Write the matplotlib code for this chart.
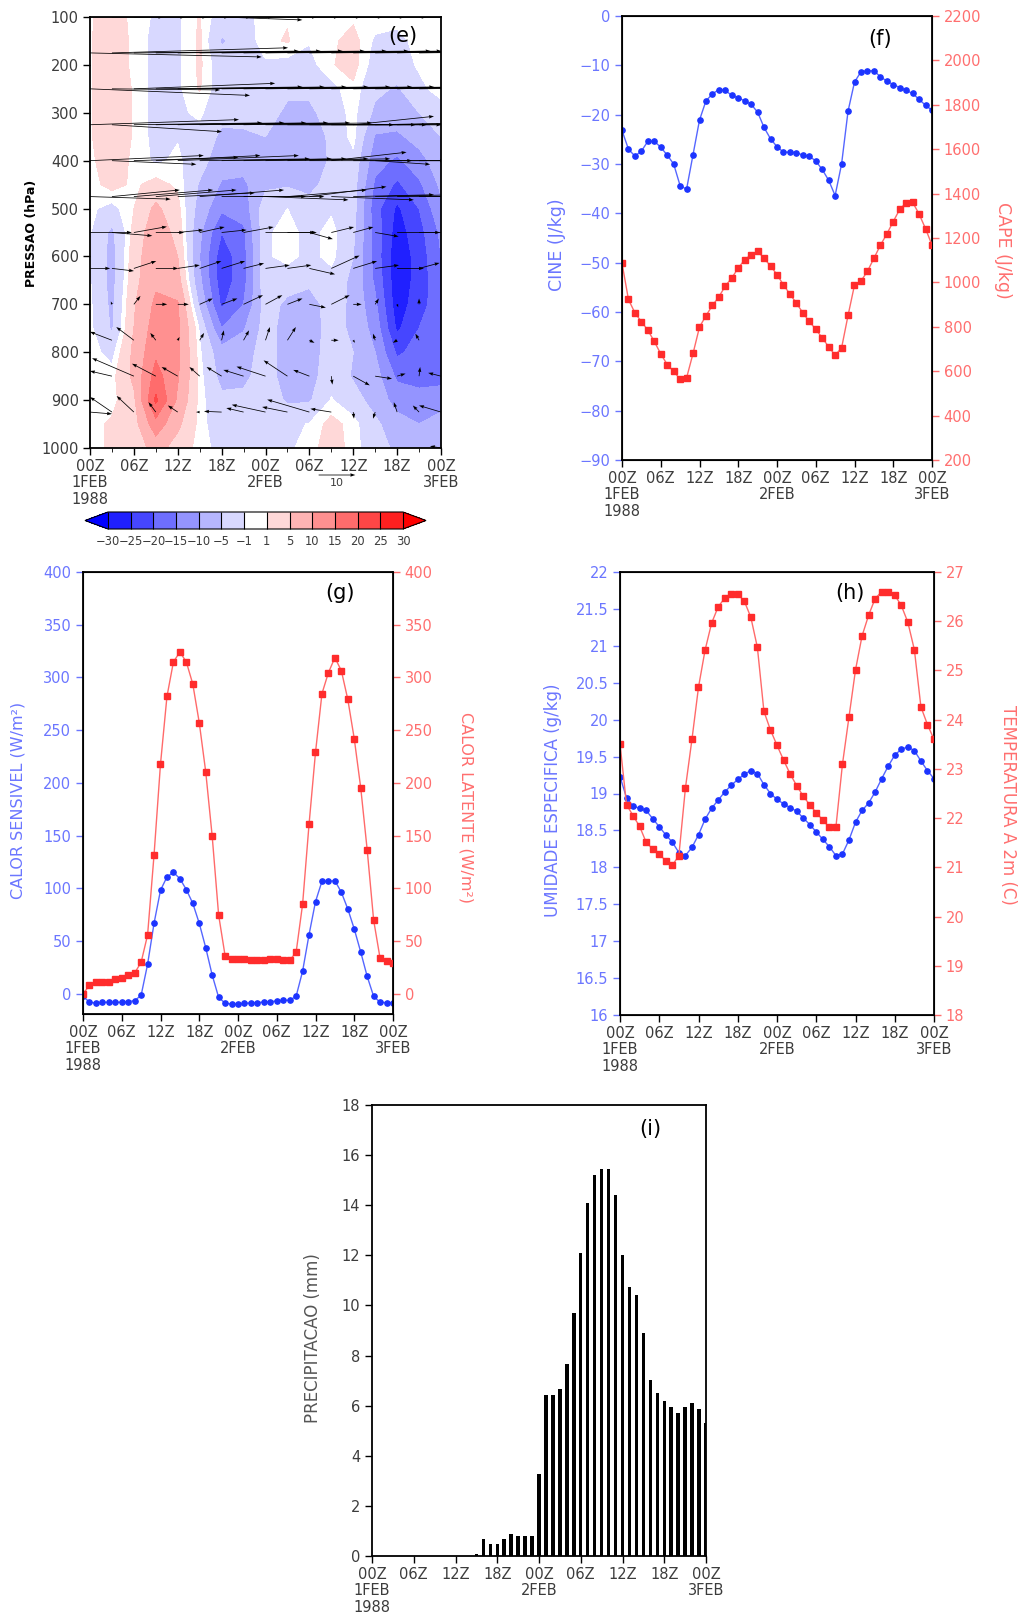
import numpy as np
import matplotlib.pyplot as plt
from matplotlib.colors import ListedColormap, BoundaryNorm
from matplotlib.ticker import MultipleLocator, FuncFormatter

plt.rcParams['font.family'] = 'DejaVu Sans'

# ---------------- data ----------------
hours = np.arange(49)
tick_hours = np.arange(0, 49, 6)
tick_labels = ['00Z\n1FEB\n1988', '06Z', '12Z', '18Z', '00Z\n2FEB',
               '06Z', '12Z', '18Z', '00Z\n3FEB']

cine = [-23.2, -27.0, -28.4, -27.4, -25.4, -25.4, -26.6, -28.2, -30.0, -34.4,
        -35.1, -28.1, -21.1, -17.2, -15.8, -14.9, -15.1, -16.1, -16.6, -17.2,
        -17.9, -19.5, -22.6, -24.9, -26.5, -27.6, -27.6, -27.7, -28.2, -28.4,
        -29.4, -31.1, -33.3, -36.4, -30.0, -19.3, -13.4, -11.3, -11.1, -11.1,
        -12.3, -13.2, -13.9, -14.5, -15.1, -15.7, -16.9, -18.1, -19.1]
cape = [1087, 923, 863, 823, 785, 734, 678, 630, 599, 564, 570, 680, 799, 850,
        896, 935, 984, 1020, 1065, 1102, 1125, 1141, 1108, 1074, 1035, 989, 947,
        907, 863, 824, 789, 750, 710, 672, 705, 851, 988, 1006, 1050, 1108, 1167,
        1218, 1274, 1329, 1359, 1361, 1308, 1242, 1168]

sensivel = [-2, -7.9, -8.5, -7.9, -7.9, -7.9, -7.9, -7.3, -6.3, -1.3, 28.1, 67,
            98.3, 110.9, 115.3, 109.3, 98.9, 85.9, 67, 43.9, 18, -3.2, -8.8,
            -9.5, -9.5, -8.8, -8.5, -8.2, -7.6, -7.3, -6.6, -6, -6, -2.2, 21.5,
            56.2, 87.5, 106.8, 106.8, 107.4, 96.4, 80.6, 61.6, 39.8, 16.7, -2.2,
            -7.9, -8.2, -8.5]
latente = [0, 8.2, 11.1, 11.1, 11.4, 14.2, 15.2, 18, 19.9, 30, 55.9, 131.8, 218,
           282, 314.7, 324.2, 314.7, 293.8, 257.2, 210.7, 149.8, 74.9, 36.3, 33.5,
           33.2, 32.9, 32.2, 32.2, 32.2, 32.9, 32.9, 32.5, 31.9, 39.5, 85, 160.8,
           229, 284.7, 304.6, 318.8, 306.5, 279.3, 242, 195.6, 136.8, 70.1, 33.8,
           31, 29.1]

umidade = [19.23, 18.94, 18.83, 18.80, 18.77, 18.66, 18.55, 18.44, 18.34, 18.20,
           18.16, 18.27, 18.44, 18.65, 18.80, 18.91, 19.02, 19.11, 19.19, 19.26,
           19.31, 19.27, 19.12, 19.00, 18.92, 18.86, 18.81, 18.76, 18.67, 18.58,
           18.48, 18.38, 18.28, 18.16, 18.18, 18.37, 18.61, 18.77, 18.87, 19.02,
           19.20, 19.37, 19.52, 19.60, 19.63, 19.58, 19.44, 19.31, 19.20]
temp2m = [23.51, 22.27, 22.05, 21.83, 21.51, 21.37, 21.27, 21.13, 21.04, 21.24,
          22.61, 23.60, 24.66, 25.41, 25.96, 26.29, 26.47, 26.55, 26.55, 26.41,
          26.08, 25.47, 24.17, 23.79, 23.48, 23.18, 22.90, 22.66, 22.45, 22.27,
          22.11, 21.96, 21.81, 21.81, 23.09, 24.05, 25.01, 25.70, 26.12, 26.46,
          26.60, 26.60, 26.53, 26.32, 25.98, 25.42, 24.26, 23.90, 23.60]

precip = [0, 0, 0, 0, 0, 0, 0, 0, 0, 0, 0, 0, 0, 0, 0, 0.09, 0.67, 0.49, 0.49,
          0.67, 0.89, 0.81, 0.81, 0.81, 3.29, 6.41, 6.41, 6.66, 7.67, 9.69, 12.08,
          14.08, 15.21, 15.45, 15.45, 14.40, 12.03, 10.74, 10.42, 8.90, 7.03,
          6.49, 6.17, 5.94, 5.72, 5.94, 6.09, 5.86, 5.32]

# section (e): filled field, one list per time (every 3 h), levels 100..1000 by 50
sec_hours = np.arange(0, 49, 3)
sec_press = np.arange(100, 1001, 50)
sec_cols = [
    [0.8, 0.8, 0.8, 0.8, 0.8, 0.8, 0.5, 0, -0.5, -0.8, -0.8, -0.8, -0.5, -0.3, 0, 0, 0, 0, 0],
    [2, 2.5, 2.5, 2.5, 2.5, 2.5, 2.5, 2, -2, -6, -6.5, -6.5, -6, -5.5, -2, 0, 0, 1.5, 1.5],
    [0.5, 0.5, 0.5, 0.8, 0.8, 0.8, 0.5, 0.5, 1, 2, 3, 3.5, 4.5, 5, 6, 6, 4, 3, 2],
    [-1.5, -2, -2, -2, -2, -2, -1.5, 2, 6, 8, 8.5, 9, 11, 12.5, 14, 17, 21, 13, 7],
    [-1.5, -1.5, -1.5, -1.5, -1.5, -1.2, -0.5, 0.5, 2, 3.5, 5, 7, 10.5, 11, 11, 10.5, 9, 6, 3],
    [1.2, 1.5, 1.5, 1.2, -0.5, -2, -3, -5.5, -7, -9, -10, -9, -6, -1.5, -0.5, 0, 0, 0, 0],
    [-3, -5.5, -3, -3, -3.5, -6, -8, -10.5, -14, -20, -23, -23, -21, -15, -8, -6.5, -4, -3, -2],
    [-2.5, -3, -2.5, -2.5, -3, -6, -8, -11, -13, -16, -17, -17, -15, -10.5, -7, -6, -4, -3, -2],
    [0.5, 0.5, -1.5, -2, -3, -5, -6, -6, -2, -1.5, -1.5, -1.5, -3, -3, -3, -3, -3, -1.5, -1],
    [0.8, 1.2, -2, -4, -6, -7, -7, -5.5, -1, 0, 0, -3, -6, -7, -7, -7, -5.5, -2, -1.5],
    [0, -0.8, -2, -4, -6, -8, -9.5, -6.5, -3, -2, -2, -4, -7, -7.5, -7.5, -7, -5.5, -0.8, 0],
    [0, 0.5, 0.8, -2, -3, -4, -4, -3, -1.5, 0, 0, -2.5, -3, -3, -2.5, -2, -0.8, 2, 2.5],
    [0.5, 2, 2, 0.5, 0, 0, -2, -3, -3, -4, -5, -6, -6, -6, -5, -5.5, -3, 0, 0],
    [0.3, -1.5, -2.5, -4, -6, -10.5, -13, -16, -18, -17, -17, -16, -14, -12, -10, -8, -7, -4, -3],
    [0, -2, -3, -5.5, -7, -11, -16, -21, -26, -27.5, -28.5, -28.5, -28, -26, -21, -16, -12, -8, -6],
    [0, 0, -0.5, -2, -5, -8, -12, -16, -20, -22, -23, -23, -22, -20, -18, -17, -13, -10, -7],
    [0, 0, -0.5, 0.5, -3, -5, -7, -9, -11, -14, -15, -16, -17, -18, -19, -17, -12, -8, -5],
]
sec_levels = [-30, -25, -20, -15, -10, -5, -1, 1, 5, 10, 15, 20, 25, 30]
sec_colors = ['#2020ff', '#4646ff', '#6e6eff', '#9494ff', '#b6b6ff', '#d8d8ff',
              '#ffffff', '#ffd8d8', '#ffb4b4', '#ff9090', '#ff6c6c', '#ff4646',
              '#ff2020']

# wind vectors, every 3 h, levels 100..1000 by 75
wind_press = np.arange(100, 1001, 75)
wind_u = [
    [20, 20, 20, 20, 20, 20, 22, 20, 20, 20, 20, 20, 20, 20, 20, 20, 20],
    [46.8, 48, 45, 45, 45, 45, 45, 45, 45, 42, 42, 42, 42, 42, 42, 42, 42],
    [43.6, 29.5, 38.5, 40, 40, 40, 40, 40, 40, 40, 40, 40, 40, 40, 40, 40, 40],
    [40.6, 30, 35, 35, 35, 35, 35, 35, 35, 35, 32, 30, 22, 25, 25, 25, 25],
    [31, 23, 28.5, 28.5, 33, 30, 30, 28, 28, 28, 28, 20.5, 25, 15, 20, 20, 20],
    [22, 18.5, 21.6, 22, 21, 23, 23, 22, 22.6, 21.6, 21, 22.5, 22, 22, 22, 22, 22],
    [11.4, 11, 9, 7.7, 7, 6.8, 6.8, 8.2, 13.5, 8, 6.4, 6.2, 5.5, 6.4, 11.7, 8, 8],
    [5.5, 6, 6.1, 6.1, 6, 5.9, 6.4, 5.6, 6.6, 6.5, 7, 7.7, 6.5, 6.5, 7.3, 5.6, 6],
    [0, -0.3, 1.8, 3.1, 3, 3.6, 4.3, 5.3, 4.6, 4.1, 4.5, 5, 2.3, 1, 0.3, 0, 0],
    [0, -6, -4.8, -1.5, 0.5, 1.2, 0.6, 1.5, 1.2, 2.3, 1.4, 2, 0.5, -0.6, -1.2, -1, 0],
    [-8, -6, -11.4, -6.5, -4.4, -2.8, -4.1, -5.5, -7.9, -6.5, -4.4, 0.3, 4.5, 4.6, 2.3, 0.3, -3.5],
    [6, -6, -4.7, -2, -2.7, -1, -4.8, -4.7, -9.2, -6.9, -11.5, -5.7, 0.2, -0.6, -0.9, -1.7, -6],
    [0, 0, 3.5, 0, 0, 0, 0, 0, 0, 0, 0, 0, 0, 0, 0, 0, -3],
]
wind_v = [
    [0, 0, 0, 0, 0, 0, -0.8, 0, 0, 0, 0, 0, 0, 0, 0, 0, 0],
    [-1.1, 1.4, 0.5, 0.5, 0.5, 0.5, 0.5, 0.5, 0.5, 0.5, 0.5, 0.5, 0.5, 0.5, 1, 0.5, 0.5],
    [-1.8, -0.3, 1.5, 0.5, 0.5, 0.5, 0.5, 0.5, 0.5, 0.5, 0.5, 0.5, 0.5, 0.5, 1, 0.5, 0.5],
    [1.4, -1.9, 0.5, 0.5, 0.5, 0.5, 0.5, 0.5, 0, 0, 0, 0, 2.3, 0.5, 0.5, 0, 0],
    [1.4, -1, 0.9, 1.4, 1.4, 0.5, 0.5, 0.5, 0.5, 0.5, 0, 2.3, 0, -1, 0, 0, 0],
    [-0.7, 1.8, 1.8, 1.8, 1, 1.8, 0, 0, -0.9, 1.8, 2.7, -0.9, 0.5, 0.5, 0, 0, 0],
    [0, -0.9, 1.6, 0, 0.7, 1.5, 0.7, 1.5, 0, 0, -1.8, 1.5, 1.5, -1.1, 0, 0, 0],
    [0, -0.7, 2, 0, 0.9, 2, 2, 1.4, 0.9, 0.9, -1.6, 3.5, 2, 0.9, 0, 1.5, 1.5],
    [0, 0.8, 2.3, 0, 0, 1.6, 1.6, 2.5, 2.5, 1.6, -0.9, 2.5, 0, 1.6, -0.8, 1.6, 0],
    [0, 2.3, 3.6, 2, 0.9, 2, 2.7, 2.7, 3.6, 3.6, -0.7, 0, -0.7, 1.8, -0.7, 1.8, 0],
    [2, 1.4, 4.9, 3.4, 2.5, 2.5, 2.5, 1.7, 2.6, 4.3, 1.7, -2.3, -2.5, -0.7, 0.7, 2.5, 0.9],
    [-0.5, 4.1, 4.4, 2.7, 1.8, 0, 0.2, 1.1, 2, 1.4, 3.4, 0.9, -1.8, -1.8, 2.7, 1.8, 1.8],
    [0, 0, -0.5, 0, 0, 0, 0, 0, 0, 0, 0, 0, 0, 0, 0, 0, 0.5],
]

# ---------------- styling ----------------
W, H = 1021, 1623
GRAY = '#3c3c3c'
BLUE_TXT = '#6b76ff'
RED_TXT = '#ff6f6f'
BLUE_LINE = '#5566ff'
BLUE_MK = '#1c34ff'
RED_LINE = '#ff6a6a'
RED_MK = '#ff2c2c'
FS = 10.5


def box(l, t, r, b):
    return [l / W, 1 - b / H, (r - l) / W, (b - t) / H]


def fxy(x, y):
    return x / W, 1 - y / H


def time_axis(ax):
    ax.set_xlim(0, 48)
    ax.set_xticks(tick_hours)
    ax.set_xticklabels(tick_labels, fontsize=FS, color=GRAY, linespacing=1.1)
    ax.tick_params(axis='x', direction='out', length=5, width=1, color='k', pad=3)
    for s in ax.spines.values():
        s.set_linewidth(1.3)


fig = plt.figure(figsize=(W / 100, H / 100), dpi=100)

# ---------------- (e) ----------------
ax = fig.add_axes(box(90, 17, 441, 448))
Z = np.array(sec_cols).T
cmap = ListedColormap(sec_colors)
cmap.set_under('#0000ff')
cmap.set_over('#ff0000')
norm = BoundaryNorm(sec_levels, cmap.N)
cs = ax.contourf(sec_hours, sec_press, Z, levels=sec_levels, cmap=cmap,
                 norm=norm, extend='both')
TW, PW = np.meshgrid(sec_hours, wind_press)
q = ax.quiver(TW, PW, np.array(wind_u), np.array(wind_v), color='k',
              scale_units='inches', scale=27.25, width=0.0022,
              headwidth=4.5, headlength=6.5, headaxislength=6, zorder=3)
ax.quiverkey(q, 337 / W, 1 - 475 / H, 10, '10', labelpos='S',
             coordinates='figure', labelsep=0.03,
             fontproperties={'size': 8}, labelcolor=GRAY)
ax.set_ylim(1000, 100)
ax.set_yticks(np.arange(100, 1001, 100))
ax.tick_params(axis='y', direction='out', length=5, width=1, labelsize=FS,
               labelcolor=GRAY, pad=3)
time_axis(ax)
ax.xaxis.set_minor_locator(MultipleLocator(3))
ax.tick_params(axis='x', which='minor', direction='out', length=3)
fig.text(*fxy(403, 36), '(e)', fontsize=15, ha='center', va='center')
fig.text(*fxy(32, 233), 'PRESSAO (hPa)', fontsize=9, fontweight='bold',
         rotation=90, ha='center', va='center')

cax = fig.add_axes(box(85, 512, 426, 529))
cb = fig.colorbar(cs, cax=cax, orientation='horizontal', ticks=sec_levels,
                  spacing='uniform', extendfrac=0.078, drawedges=True)
cb.set_ticklabels([str(v).replace('-', '\u2212') for v in sec_levels])
cb.ax.tick_params(length=0, labelsize=8.3, labelcolor=GRAY, pad=4)
cb.outline.set_linewidth(0.8)
cb.dividers.set_linewidth(0.8)

# ---------------- (f) ----------------
ax = fig.add_axes(box(622, 16, 932, 460))
ax.plot(hours, cine, color=BLUE_LINE, lw=1, marker='o', ms=3.8,
        mfc=BLUE_MK, mec=BLUE_MK)
ax.set_ylim(-90, 0)
ax.set_yticks(np.arange(-90, 1, 10))
ax.tick_params(axis='y', direction='out', length=5, width=1, color=BLUE_TXT,
               labelsize=FS, labelcolor=BLUE_TXT)
time_axis(ax)
ax2 = ax.twinx()
ax2.plot(hours, cape, color=RED_LINE, lw=1, marker='s', ms=3.8,
         mfc=RED_MK, mec=RED_MK)
ax2.set_ylim(200, 2200)
ax2.set_yticks(np.arange(200, 2201, 200))
ax2.tick_params(axis='y', direction='out', length=5, width=1, color=RED_TXT,
                labelsize=FS, labelcolor=RED_TXT)
fig.text(*fxy(880, 39), '(f)', fontsize=15, ha='center', va='center')
fig.text(*fxy(557, 245), 'CINE (J/kg)', fontsize=12.5, color=BLUE_TXT,
         rotation=90, ha='center', va='center')
fig.text(*fxy(1003, 250), 'CAPE (J/kg)', fontsize=12.5, color=RED_TXT,
         rotation=-90, ha='center', va='center')

# ---------------- (g) ----------------
ax = fig.add_axes(box(83, 572, 393, 1014))
ax.plot(hours, sensivel, color=BLUE_LINE, lw=1, marker='o', ms=3.8,
        mfc=BLUE_MK, mec=BLUE_MK)
ax.set_ylim(-19, 400)
ax.set_yticks(np.arange(0, 401, 50))
ax.tick_params(axis='y', direction='out', length=5, width=1, color=BLUE_TXT,
               labelsize=FS, labelcolor=BLUE_TXT)
time_axis(ax)
ax2 = ax.twinx()
ax2.plot(hours, latente, color=RED_LINE, lw=1, marker='s', ms=3.8,
         mfc=RED_MK, mec=RED_MK)
ax2.set_ylim(-19, 400)
ax2.set_yticks(np.arange(0, 401, 50))
ax2.tick_params(axis='y', direction='out', length=5, width=1, color=RED_TXT,
                labelsize=FS, labelcolor=RED_TXT)
fig.text(*fxy(340, 593), '(g)', fontsize=15, ha='center', va='center')
fig.text(*fxy(18, 800), 'CALOR SENSIVEL (W/m\u00b2)', fontsize=11.5,
         color=BLUE_TXT, rotation=90, ha='center', va='center')
fig.text(*fxy(466, 808), 'CALOR LATENTE (W/m\u00b2)', fontsize=11.5,
         color=RED_TXT, rotation=-90, ha='center', va='center')

# ---------------- (h) ----------------
ax = fig.add_axes(box(620, 572, 934, 1015))
ax.plot(hours, umidade, color=BLUE_LINE, lw=1, marker='o', ms=3.8,
        mfc=BLUE_MK, mec=BLUE_MK)
ax.set_ylim(16, 22)
ax.set_yticks(np.arange(16, 22.01, 0.5))
ax.yaxis.set_major_formatter(FuncFormatter(lambda v, p: '%g' % v))
ax.tick_params(axis='y', direction='out', length=5, width=1, color=BLUE_TXT,
               labelsize=FS, labelcolor=BLUE_TXT)
time_axis(ax)
ax2 = ax.twinx()
ax2.plot(hours, temp2m, color=RED_LINE, lw=1, marker='s', ms=3.8,
         mfc=RED_MK, mec=RED_MK)
ax2.set_ylim(18, 27)
ax2.set_yticks(np.arange(18, 28, 1))
ax2.tick_params(axis='y', direction='out', length=5, width=1, color=RED_TXT,
                labelsize=FS, labelcolor=RED_TXT)
fig.text(*fxy(850, 593), '(h)', fontsize=15, ha='center', va='center')
fig.text(*fxy(553, 800), 'UMIDADE ESPECIFICA (g/kg)', fontsize=12,
         color=BLUE_TXT, rotation=90, ha='center', va='center')
fig.text(*fxy(1008, 805), 'TEMPERATURA A 2m (C)', fontsize=12,
         color=RED_TXT, rotation=-90, ha='center', va='center')

# ---------------- (i) ----------------
ax = fig.add_axes(box(372, 1105, 706, 1556))
ax.bar(hours, precip, width=0.5, color='k')
ax.set_ylim(0, 18)
ax.set_yticks(np.arange(0, 19, 2))
ax.tick_params(axis='y', direction='out', length=5, width=1,
               labelsize=FS, labelcolor=GRAY)
time_axis(ax)
fig.text(*fxy(650, 1129), '(i)', fontsize=15, ha='center', va='center')
fig.text(*fxy(313, 1338), 'PRECIPITACAO (mm)', fontsize=12, color='#555555',
         rotation=90, ha='center', va='center')

fig.savefig('out.png', dpi=100)
